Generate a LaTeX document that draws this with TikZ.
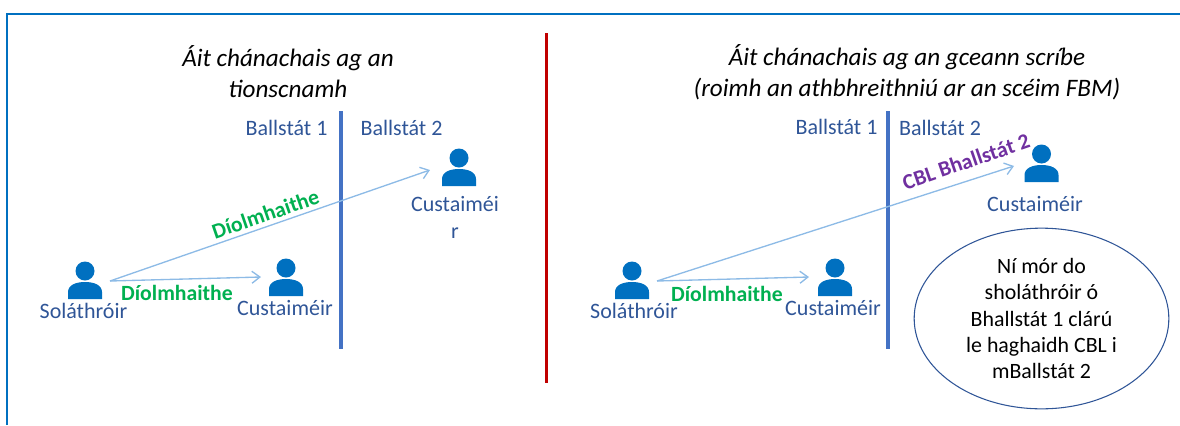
\documentclass[tikz,border=0pt]{standalone}
\usepackage{fontspec}
\usepackage{xcolor}
\usetikzlibrary{arrows.meta,shapes.geometric}
\setmainfont{Carlito}
\definecolor{frameblue}{HTML}{0070C0}
\definecolor{borderblue}{HTML}{4472C4}
\definecolor{labelblue}{HTML}{2F5597}
\definecolor{arrowblue}{HTML}{8DBBE6}
\definecolor{splitred}{HTML}{C00000}
\definecolor{salegreen}{HTML}{00B050}
\definecolor{vatpurple}{HTML}{7030A0}

\begin{document}
\begin{tikzpicture}[
  x=0.75pt,y=-0.75pt,
  title/.style={inner sep=0pt,align=center,font=\fontsize{18.85}{23.25}\selectfont\itshape},
  party/.style={inner sep=0pt,align=center,text=labelblue,font=\fontsize{16.5}{20}\selectfont},
  sale/.style={inner sep=0pt,text=salegreen,font=\fontsize{16.3}{20}\selectfont\bfseries},
  vat/.style={inner sep=0pt,text=vatpurple,font=\fontsize{16.3}{20}\selectfont\bfseries},
  note/.style={ellipse,draw=labelblue,line width=0.8pt,inner sep=0pt,align=center,
    minimum width=191pt,minimum height=135.5pt,font=\fontsize{16.4}{19.7}\selectfont},
  border/.style={draw=borderblue,line width=3pt},
  flow/.style={draw=arrowblue,line width=1pt,-{Straight Barb[length=6pt,width=9pt]}},
  person/.pic={
    \fill [frameblue] (0,0) circle [radius=9.5];
    \fill [frameblue] (-17,28) -- (-17,21) .. controls (-17,14) and (-9,11) .. (0,11)
      .. controls (9,11) and (17,14) .. (17,21) -- (17,28) -- cycle;
  },
]
\useasboundingbox (0,0) rectangle (1180,425);

\coordinate (framea) at (7,425);
\coordinate (frameb) at (7,14);
\coordinate (framec) at (1180,14);
\draw [frameblue,line width=1.7pt] (framea) -- (frameb) -- (framec);

\coordinate (splita) at (546.5,33);
\coordinate (splitb) at (546.5,383);
\draw [splitred,line width=2.2pt] (splita) -- (splitb);

% left side
\node [title] (titleL) at (288,72) {Áit chánachais ag an\\tionscnamh};
\coordinate (bordertopL) at (340.5,111);
\coordinate (borderbotL) at (340.5,349);
\draw [border] (bordertopL) -- (borderbotL);
\node [party] (stateoneL) at (286.5,128) {Ballstát 1};
\node [party] (statetwoL) at (401.5,128) {Ballstát 2};

\pic at (85,271) {person};
\pic at (286,268) {person};
\pic at (459,158) {person};
\node [party] (supplierL) at (83.5,311) {Soláthróir};
\node [party] (customerL) at (285,308) {Custaiméir};
\node [party] (customerfarL) at (455,217.5) {Custaiméi\\r};

\coordinate (startL) at (110,281);
\coordinate (endL) at (261,277);
\coordinate (endfarL) at (430,170);
\draw [flow] (startL) -- (endL);
\draw [flow] (startL) -- (endfarL);
\node [sale] (saleL) at (177,293) {Díolmhaithe};
\node [sale,rotate=19] (salefarL) at (265.5,214) {Díolmhaithe};

% right side
\node [title] (titleR) at (907,72) {Áit chánachais ag an gceann scríbe\\(roimh an athbhreithniú ar an scéim FBM)};
\coordinate (bordertopR) at (888,111);
\coordinate (borderbotR) at (888,349);
\draw [border] (bordertopR) -- (borderbotR);
\node [party] (stateoneR) at (836.5,127) {Ballstát 1};
\node [party] (statetwoR) at (940,128) {Ballstát 2};

\pic at (632,271) {person};
\pic at (835,268) {person};
\pic at (1041.5,154) {person};
\node [party] (supplierR) at (634,311) {Soláthróir};
\node [party] (customerR) at (833,308) {Custaiméir};
\node [party] (customerfarR) at (1035,204) {Custaiméir};

\coordinate (startR) at (657,281);
\coordinate (endR) at (809,277);
\coordinate (endfarR) at (1014,166);
\draw [flow] (startR) -- (endR);
\draw [flow] (startR) -- (endfarR);
\node [sale] (saleR) at (727,294) {Díolmhaithe};
\node [vat,rotate=19] (vatR) at (966,161.5) {CBL Bhallstát 2};

\node [note] (noteR) at (1041.5,318.5) {Ní mór do\\sholáthróir ó\\Bhallstát 1 clárú\\le haghaidh CBL i\\mBallstát 2};
\end{tikzpicture}
\end{document}
